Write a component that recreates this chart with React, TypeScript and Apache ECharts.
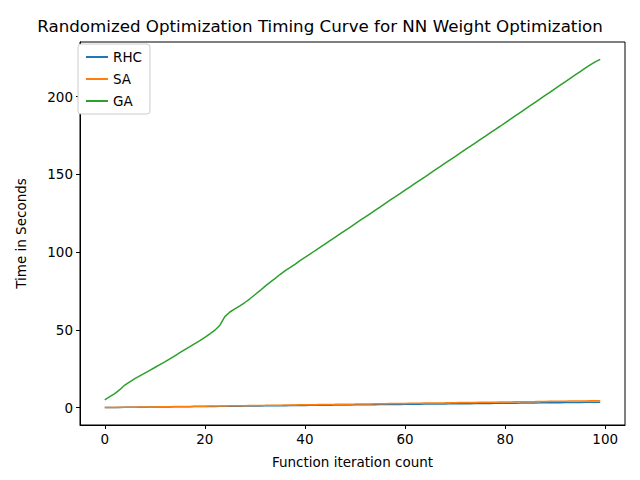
import React, { useEffect, useRef } from 'react';
import * as echarts from 'echarts';

const seriesNames = ['RHC', 'SA', 'GA'];
const colors = ['#1f77b4', '#ff7f0e', '#2ca02c'];
const xTicks = [0, 20, 40, 60, 80, 100];
const yTicks = [0, 50, 100, 150, 200];

const rhc = [
  0.0, 0.04, 0.07, 0.1, 0.14, 0.17, 0.21, 0.24, 0.28, 0.31, 0.35, 0.38, 0.42, 0.45, 0.49, 0.52, 0.56, 0.59, 0.63, 0.66,
  0.7, 0.73, 0.77, 0.8, 0.84, 0.87, 0.91, 0.94, 0.98, 1.01, 1.05, 1.08, 1.12, 1.15, 1.19, 1.22, 1.26, 1.29, 1.33, 1.36,
  1.4, 1.43, 1.47, 1.5, 1.54, 1.57, 1.61, 1.64, 1.68, 1.71, 1.75, 1.78, 1.82, 1.85, 1.89, 1.92, 1.96, 1.99, 2.03, 2.06,
  2.1, 2.13, 2.17, 2.2, 2.24, 2.27, 2.31, 2.34, 2.38, 2.41, 2.45, 2.48, 2.52, 2.55, 2.59, 2.62, 2.66, 2.69, 2.73, 2.76,
  2.8, 2.83, 2.87, 2.9, 2.94, 2.97, 3.01, 3.04, 3.08, 3.11, 3.15, 3.18, 3.22, 3.25, 3.29, 3.32, 3.36, 3.39, 3.43, 3.46,
];

const sa = [
  0.0, 0.05, 0.09, 0.14, 0.18, 0.23, 0.27, 0.32, 0.36, 0.41, 0.45, 0.5, 0.54, 0.59, 0.63, 0.68, 0.72, 0.77, 0.81, 0.86,
  0.9, 0.95, 0.99, 1.04, 1.08, 1.13, 1.17, 1.22, 1.26, 1.31, 1.35, 1.4, 1.44, 1.49, 1.53, 1.58, 1.62, 1.67, 1.71, 1.76,
  1.8, 1.85, 1.89, 1.94, 1.98, 2.03, 2.07, 2.12, 2.16, 2.21, 2.25, 2.3, 2.34, 2.39, 2.43, 2.48, 2.52, 2.57, 2.61, 2.66,
  2.7, 2.75, 2.79, 2.84, 2.88, 2.93, 2.97, 3.02, 3.06, 3.11, 3.15, 3.2, 3.24, 3.29, 3.33, 3.38, 3.42, 3.47, 3.51, 3.56,
  3.6, 3.65, 3.69, 3.74, 3.78, 3.83, 3.87, 3.92, 3.96, 4.01, 4.05, 4.1, 4.14, 4.19, 4.23, 4.28, 4.32, 4.37, 4.41, 4.46,
];

const ga = [
  5.0, 7.0, 9.0, 11.5, 14.5, 16.6, 18.6, 20.4, 22.2, 24.0, 25.8, 27.6, 29.4, 31.3, 33.3, 35.3, 37.3, 39.2, 41.2, 43.1,
  45.2, 47.4, 49.8, 53.0, 58.5, 61.5, 63.5, 65.5, 67.6, 70.0, 72.6, 75.2, 78.0, 80.6, 83.0, 85.6, 88.0, 90.0, 92.2, 94.6,
  96.6, 98.7, 100.9, 103.0, 105.2, 107.4, 109.5, 111.7, 113.9, 116.0, 118.2, 120.4, 122.5, 124.7, 126.9, 129.0, 131.2, 133.4, 135.5, 137.7,
  139.9, 142.0, 144.2, 146.4, 148.5, 150.7, 152.9, 155.0, 157.2, 159.4, 161.5, 163.7, 165.9, 168.0, 170.2, 172.4, 174.5, 176.7, 178.9, 181.0,
  183.2, 185.4, 187.6, 189.8, 192.0, 194.2, 196.4, 198.6, 200.8, 203.0, 205.2, 207.4, 209.6, 211.8, 214.0, 216.2, 218.4, 220.5, 222.4, 224.0,
];

const App = () => {
  const chartRef = useRef<HTMLDivElement>(null);

  useEffect(() => {
    document.body.style.margin = '0';
    if (!chartRef.current) return;
    const myChart = echarts.init(chartRef.current, null, { renderer: 'svg' });
    const font = 'DejaVu Sans';
    const all = [rhc, sa, ga];
    myChart.setOption({
      animation: false,
      textStyle: { fontFamily: font },
      title: {
        text: 'Randomized Optimization Timing Curve for NN Weight Optimization',
        left: 'center',
        top: 12,
        textStyle: { fontFamily: font, fontSize: 16.7, fontWeight: 'normal', color: '#000' },
      },
      legend: {
        orient: 'vertical',
        left: 78,
        top: 44,
        padding: [6, 8, 6, 8],
        itemGap: 8,
        itemWidth: 22,
        itemHeight: 2,
        borderColor: '#ccc',
        borderWidth: 1,
        borderRadius: 3,
        backgroundColor: '#fff',
        icon: 'rect',
        textStyle: { fontFamily: font, fontSize: 13.5, color: '#000' },
        data: seriesNames,
      },
      grid: {
        left: 80, right: 15, top: 42, bottom: 55,
        outerBoundsMode: 'none', containLabel: false,
        show: true, borderColor: '#000', borderWidth: 1,
      },
      xAxis: {
        type: 'value',
        min: -4.95,
        max: 103.95,
        name: 'Function iteration count',
        nameLocation: 'middle',
        nameGap: 30,
        nameTextStyle: { fontFamily: font, fontSize: 13.5, color: '#000' },
        axisLine: { show: true, onZero: false, lineStyle: { color: '#000' } },
        axisTick: { show: true, length: 4, lineStyle: { color: '#000' }, customValues: xTicks },
        axisLabel: { color: '#000', fontSize: 13.5, fontFamily: font, customValues: xTicks, margin: 7 },
        splitLine: { show: false },
      },
      yAxis: {
        type: 'value',
        min: -11.2,
        max: 235.2,
        name: 'Time in Seconds',
        nameLocation: 'middle',
        nameGap: 52,
        nameTextStyle: { fontFamily: font, fontSize: 13.5, color: '#000' },
        axisLine: { show: true, onZero: false, lineStyle: { color: '#000' } },
        axisTick: { show: true, length: 4, lineStyle: { color: '#000' }, customValues: yTicks },
        axisLabel: { color: '#000', fontSize: 13.5, fontFamily: font, customValues: yTicks, margin: 7 },
        splitLine: { show: false },
      },
      series: seriesNames.map((name, k) => ({
        name,
        type: 'line',
        showSymbol: false,
        color: colors[k],
        lineStyle: { width: 1.5 },
        data: all[k].map((v, i) => [i, v]),
      })),
    });
    return () => myChart.dispose();
  }, []);

  return <div ref={chartRef} style={{ width: 640, height: 480 }} />;
};

export default App;
